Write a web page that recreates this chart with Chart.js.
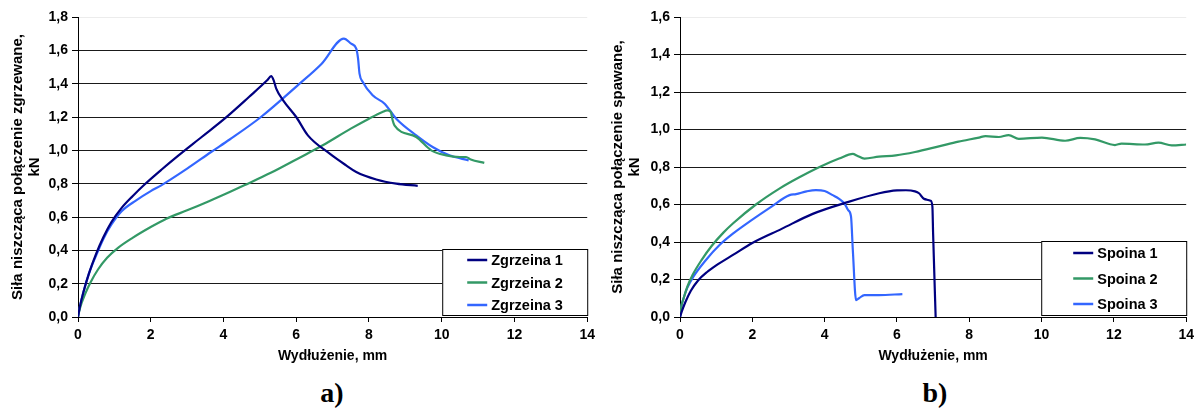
<!DOCTYPE html>
<html>
<head>
<meta charset="utf-8">
<script src="https://cdn.jsdelivr.net/npm/chart.js@4/dist/chart.umd.min.js"></script>
<style>
  body { margin: 0; background: #fff; width: 1199px; height: 412px; position: relative; overflow: hidden; }
  canvas { position: absolute; top: 0; }
  .lbl { position: absolute; width: 100px; text-align: center; font: bold 28px "Liberation Serif", "Times New Roman", serif; line-height: 28px; top: 379px; }
</style>
</head>
<body>
<canvas id="chartA" width="600" height="372" style="left:0"></canvas>
<canvas id="chartB" width="599" height="372" style="left:600px"></canvas>
<div class="lbl" style="left:282px">a)</div>
<div class="lbl" style="left:885px">b)</div>
<script>
// a) zgrzeiny
const z1x = [0, 0.05, 0.15, 0.3, 0.5, 0.7, 0.92, 1.2, 1.5, 1.83, 2.3, 2.74, 3.4, 4.03, 4.7, 5.2, 5.31, 5.38, 5.45, 5.64, 6.0, 6.32, 6.92, 7.37, 7.65, 8.2, 8.75, 9.34];
const z1y = [0, 0.06, 0.15, 0.26, 0.38, 0.48, 0.57, 0.655, 0.725, 0.795, 0.885, 0.965, 1.08, 1.19, 1.32, 1.42, 1.445, 1.42, 1.37, 1.3, 1.2, 1.09, 0.98, 0.91, 0.87, 0.825, 0.8, 0.787];

const z2x = [0, 0.05, 0.2, 0.35, 0.55, 0.8, 1.1, 1.5, 2.0, 2.43, 3.0, 3.6, 4.17, 4.57, 5.3, 6.04, 6.73, 7.5, 8.0, 8.37, 8.5, 8.6, 8.65, 8.7, 9.3, 9.71, 10.12, 10.5, 10.67, 10.8, 11.17];
const z2y = [0, 0.05, 0.14, 0.21, 0.285, 0.355, 0.415, 0.475, 0.54, 0.59, 0.64, 0.695, 0.75, 0.79, 0.865, 0.95, 1.03, 1.13, 1.19, 1.23, 1.24, 1.23, 1.18, 1.15, 1.08, 1.0, 0.97, 0.96, 0.96, 0.945, 0.925];

const z3x = [0, 0.05, 0.15, 0.3, 0.5, 0.7, 0.92, 1.2, 1.6, 2.0, 2.29, 3.0, 3.66, 4.17, 5.03, 6.04, 6.7, 7.31, 7.51, 7.65, 7.7, 7.74, 7.83, 8.1, 8.43, 8.75, 9.3, 9.75, 10.21, 10.74];
const z3y = [0, 0.06, 0.15, 0.26, 0.37, 0.47, 0.555, 0.635, 0.7, 0.755, 0.79, 0.89, 0.99, 1.065, 1.2, 1.39, 1.52, 1.67, 1.64, 1.61, 1.55, 1.46, 1.41, 1.33, 1.28, 1.19, 1.09, 1.02, 0.97, 0.94];

// b) spoiny
const s1x = [0, 0.05, 0.15, 0.3, 0.5, 0.75, 1.0, 1.5, 2.0, 2.81, 3.67, 4.59, 5.51, 6.0, 6.25, 6.5, 6.61, 6.75, 6.93, 6.98, 7.0, 7.07];
const s1y = [0, 0.03, 0.08, 0.14, 0.195, 0.24, 0.275, 0.335, 0.395, 0.47, 0.55, 0.61, 0.66, 0.675, 0.676, 0.67, 0.66, 0.63, 0.62, 0.59, 0.445, 0];

const s2x = [0, 0.03, 0.1, 0.2, 0.35, 0.6, 0.88, 1.2, 1.47, 2.1, 2.76, 3.3, 3.86, 4.4, 4.78, 4.9, 5.1, 5.5, 5.97, 6.5, 7.16, 7.7, 8.27, 8.45, 8.82, 9.09, 9.37, 10.01, 10.65, 11.07, 11.48, 12.03, 12.21, 12.86, 13.23, 13.6, 14.0];
const s2y = [0, 0.05, 0.1, 0.16, 0.225, 0.305, 0.38, 0.45, 0.5, 0.6, 0.686, 0.745, 0.8, 0.845, 0.87, 0.86, 0.845, 0.855, 0.862, 0.88, 0.91, 0.935, 0.957, 0.965, 0.96, 0.97, 0.95, 0.957, 0.94, 0.955, 0.947, 0.917, 0.925, 0.92, 0.93, 0.915, 0.92];

const s3x = [0, 0.03, 0.1, 0.2, 0.37, 0.7, 1.1, 1.5, 1.93, 2.5, 3.03, 3.21, 3.5, 3.76, 4.0, 4.22, 4.4, 4.55, 4.65, 4.73, 4.78, 4.87, 4.95, 5.1, 5.5, 6.15];
const s3y = [0, 0.05, 0.1, 0.155, 0.215, 0.3, 0.385, 0.45, 0.51, 0.585, 0.65, 0.655, 0.67, 0.677, 0.672, 0.65, 0.63, 0.605, 0.57, 0.535, 0.356, 0.09, 0.1, 0.117, 0.117, 0.122];

const xTicks = [0, 2, 4, 6, 8, 10, 12, 14];
const colors = ["#000080", "#339966", "#3366FF"];
const FONT = "'Liberation Sans', Arial, sans-serif";

const pts = (xs, ys) => xs.map((x, i) => ({ x: x, y: ys[i] }));

// legend drawn inside the plot, bottom right
const boxLegend = {
  id: "boxLegend",
  afterDraw(chart, args, opts) {
    const ctx = chart.ctx;
    const a = chart.chartArea;
    const x0 = a.right - opts.w, y0 = a.bottom - opts.h - 2;
    ctx.save();
    ctx.fillStyle = "#fff";
    ctx.fillRect(x0, y0, opts.w, opts.h);
    ctx.strokeStyle = "#000";
    ctx.lineWidth = 1;
    ctx.strokeRect(x0 + 0.5, y0 + 0.5, opts.w, opts.h);
    ctx.font = "bold 14.5px " + FONT;
    ctx.textBaseline = "middle";
    chart.data.datasets.forEach((ds, i) => {
      const y = y0 + opts.first + i * opts.step;
      ctx.strokeStyle = ds.borderColor;
      ctx.lineWidth = 2.5;
      ctx.beginPath();
      ctx.moveTo(x0 + opts.lx, y);
      ctx.lineTo(x0 + opts.lx + 20, y);
      ctx.stroke();
      ctx.fillStyle = "#000";
      ctx.fillText(ds.label, x0 + opts.lx + 24, y + 1);
    });
    ctx.restore();
  },
};

function makeChart(id, labels, series, yMax, title, legend) {
  return new Chart(document.getElementById(id), {
    type: "line",
    data: {
      datasets: series.map((s, i) => ({
        label: labels[i],
        data: s,
        borderColor: colors[i],
        borderWidth: 2.2,
        pointRadius: 0,
        fill: false,
        cubicInterpolationMode: "monotone",
      })),
    },
    options: {
      responsive: false,
      animation: false,
      devicePixelRatio: 1,
      layout: { padding: { top: 17, right: legend.right } },
      plugins: {
        legend: { display: false },
        tooltip: { enabled: false },
        boxLegend: legend,
      },
      scales: {
        x: {
          type: "linear",
          min: 0,
          max: 14,
          afterBuildTicks: (s) => { s.ticks = xTicks.map((v) => ({ value: v })); },
          afterFit: (s) => { s.height = 55; },
          grid: { drawOnChartArea: false, drawTicks: true, tickLength: 5, tickColor: "#000" },
          border: { color: "#000", width: 1 },
          ticks: { color: "#000", font: { family: FONT, size: 14, weight: "bold" }, padding: 5, maxRotation: 0 },
          title: { display: true, text: "Wydłużenie, mm", color: "#000", font: { family: FONT, size: 14, weight: "bold" }, padding: { top: 0, bottom: 7 } },
        },
        y: {
          min: 0,
          max: yMax,
          ticks: {
            stepSize: 0.2,
            color: "#000",
            padding: 4,
            font: { family: FONT, size: 14, weight: "bold" },
            callback: (v) => v.toFixed(1).replace(".", ","),
          },
          afterFit: (s) => { s.width = legend.axisW; },
          grid: {
            color: (c) => (Math.abs(c.tick.value - yMax) < 1e-6 ? "#ececec" : "#1a1a1a"),
            lineWidth: 1,
            tickLength: 6,
            tickColor: "#000",
          },
          border: { color: "#000", width: 1 },
          title: {
            display: true,
            text: [title, "kN"],
            color: "#000",
            font: { family: FONT, size: 15, weight: "bold", lineHeight: 1.13 },
            padding: { top: 9, bottom: 0 },
          },
        },
      },
    },
    plugins: [boxLegend],
  });
}

makeChart(
  "chartA",
  ["Zgrzeina 1", "Zgrzeina 2", "Zgrzeina 3"],
  [pts(z1x, z1y), pts(z2x, z2y), pts(z3x, z3y)],
  1.8,
  "Siła niszcząca połączenie zgrzewane,",
  { w: 145, h: 66, first: 11, step: 22.5, lx: 25, right: 12, axisW: 78 }
);

makeChart(
  "chartB",
  ["Spoina 1", "Spoina 2", "Spoina 3"],
  [pts(s1x, s1y), pts(s2x, s2y), pts(s3x, s3y)],
  1.6,
  "Siła niszcząca połączenie spawane,",
  { w: 145, h: 74, first: 12, step: 25.5, lx: 32, right: 11, axisW: 80 }
);
</script>
</body>
</html>
